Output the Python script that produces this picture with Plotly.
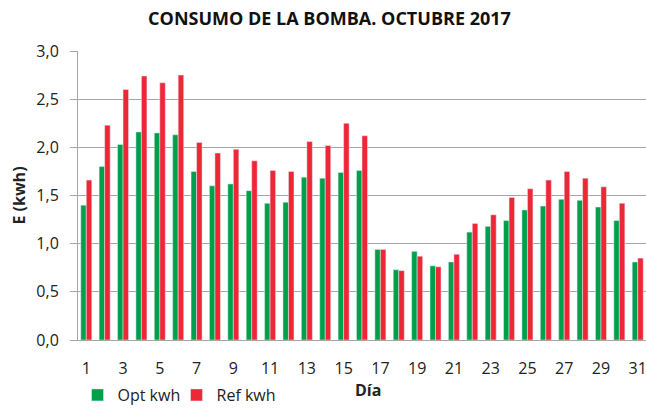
import plotly.graph_objects as go

dias = list(range(1, 32))
opt_kwh = [1.40, 1.80, 2.03, 2.16, 2.15, 2.13, 1.75, 1.60, 1.62, 1.55,
           1.42, 1.43, 1.69, 1.68, 1.74, 1.76, 0.94, 0.73, 0.92, 0.77,
           0.81, 1.12, 1.18, 1.24, 1.35, 1.39, 1.46, 1.45, 1.38, 1.24, 0.81]
ref_kwh = [1.66, 2.23, 2.60, 2.74, 2.67, 2.75, 2.05, 1.94, 1.98, 1.86,
           1.76, 1.75, 2.06, 2.02, 2.25, 2.12, 0.94, 0.72, 0.87, 0.76,
           0.89, 1.21, 1.30, 1.48, 1.57, 1.66, 1.75, 1.68, 1.59, 1.42, 0.85]
y_ticks = [0, 0.5, 1.0, 1.5, 2.0, 2.5, 3.0]
y_labels = ["0,0", "0,5", "1,0", "1,5", "2,0", "2,5", "3,0"]

font = "Open Sans, Liberation Sans, sans-serif"

fig = go.Figure()
fig.add_trace(go.Bar(x=dias, y=opt_kwh, name="Opt kwh", marker_color="#00A04B"))
fig.add_trace(go.Bar(x=dias, y=ref_kwh, name="Ref kwh", marker_color="#EE2737"))

fig.update_layout(
    width=646, height=412,
    paper_bgcolor="white", plot_bgcolor="white",
    margin=dict(l=78, r=0, t=51, b=72),
    barmode="group", bargap=0.4, bargroupgap=0,
    font=dict(family=font, size=16, color="#222222"),
    title=dict(text="<b>CONSUMO DE LA BOMBA. OCTUBRE 2017</b>", x=0.51, xanchor="center",
               y=0.955, yanchor="middle", font=dict(size=18, color="#111111")),
    legend=dict(orientation="h", xref="container", yref="container", x=0.12, y=-0.022,
                xanchor="left", yanchor="bottom",
                font=dict(size=16), itemwidth=30, entrywidth=54, traceorder="normal"),
    showlegend=True,
)
# x-axis title as annotation so the plot area keeps its fixed size
fig.add_annotation(text="<b>Día</b>", xref="paper", yref="paper", x=0.51, y=-0.173,
                   xanchor="center", yanchor="middle", showarrow=False,
                   font=dict(size=16, color="#222222"))
fig.update_xaxes(range=[0.55, 31.45], tickmode="linear", tick0=1, dtick=2,
                 showgrid=False, showline=True, linecolor="#A6A6A6",
                 ticks="", tickfont=dict(size=16), ticklabelstandoff=14,
                 ticklabeloverflow="allow", automargin=False)
fig.update_yaxes(range=[0, 3.0], tickvals=y_ticks, ticktext=y_labels,
                 showgrid=True, gridcolor="#A6A6A6", gridwidth=1,
                 showline=True, linecolor="#A6A6A6", ticks="outside", ticklen=7,
                 tickcolor="#A6A6A6", zeroline=False, ticklabelstandoff=8,
                 title=dict(text="<b>E (kwh)</b>", standoff=6, font=dict(size=16)),
                 tickfont=dict(size=16), automargin=False)

fig.write_html("out.html", post_script="document.body.style.margin='0';",
               config=dict(displayModeBar=False))
